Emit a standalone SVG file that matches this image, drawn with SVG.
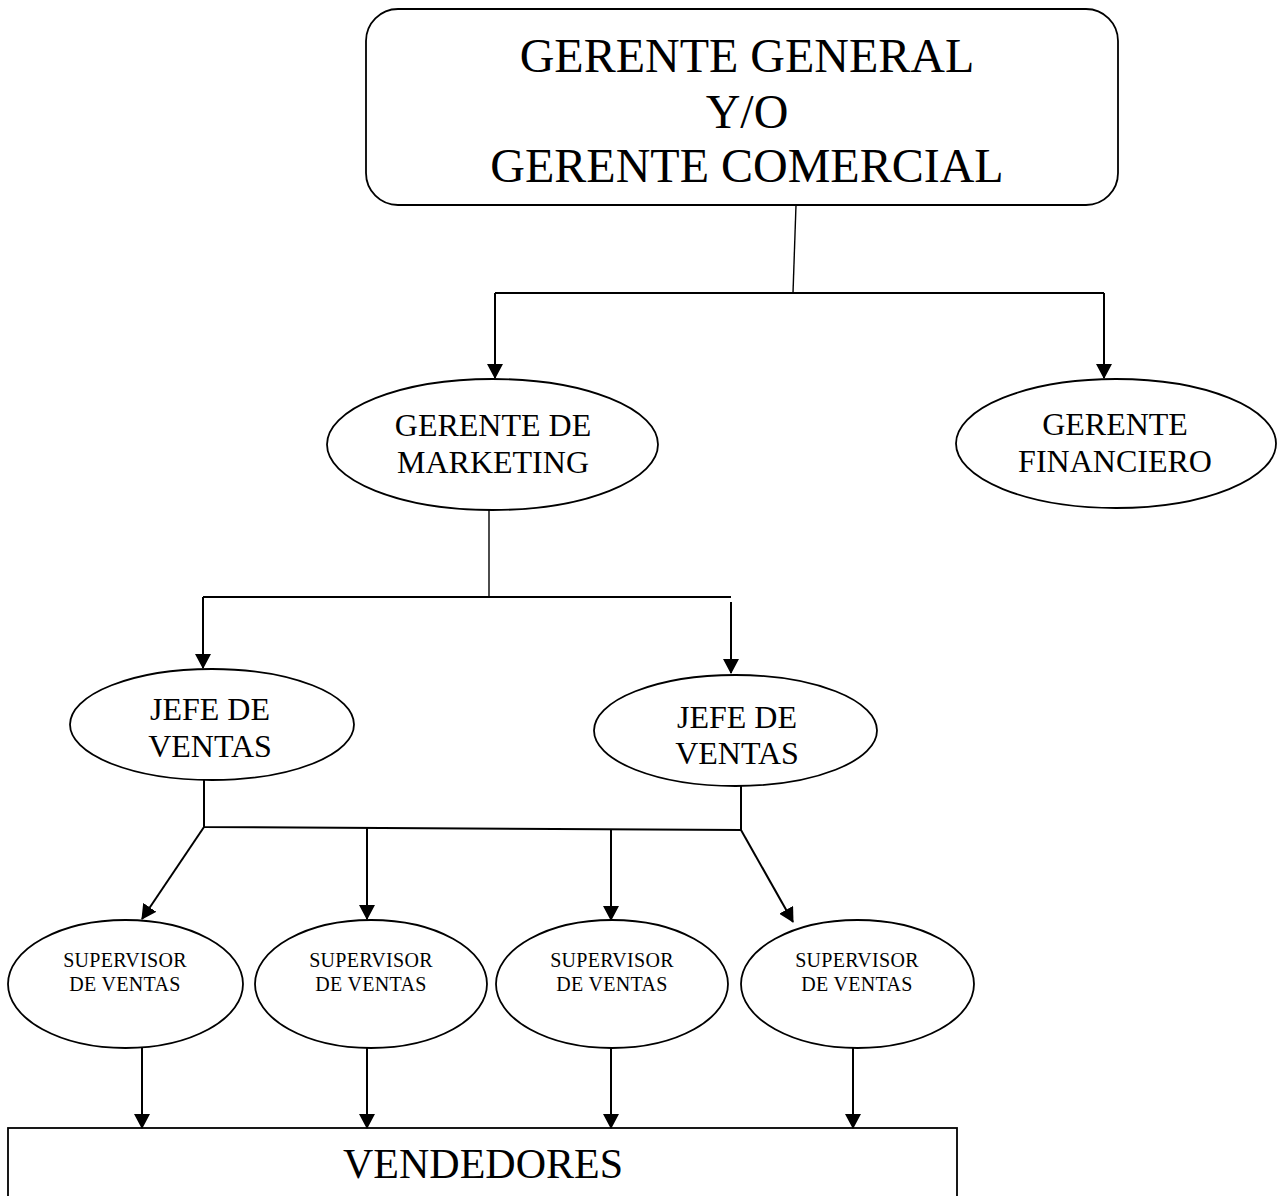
<svg xmlns="http://www.w3.org/2000/svg" width="1278" height="1196" viewBox="0 0 1278 1196">
<style>
  .shape { fill: #ffffff; stroke: #000000; stroke-width: 1.8; }
  .conn { fill: none; stroke: #000000; stroke-width: 2; }
  .thin { fill: none; stroke: #000000; stroke-width: 1.4; }
  .arrow { fill: none; stroke: #000000; stroke-width: 2; marker-end: url(#ah); }
  text { font-family: "Liberation Serif", "Times New Roman", serif; fill: #000000; text-anchor: middle; }
  .t48 { font-size: 48px; }
  .t32 { font-size: 32px; }
  .t42 { font-size: 42px; }
  .t20 { font-size: 20px; letter-spacing: 0.3px; }
</style>
<defs>
  <marker id="ah" viewBox="0 0 15 16" refX="14" refY="8" markerWidth="15" markerHeight="16" markerUnits="userSpaceOnUse" orient="auto">
    <path d="M0,0 L15,8 L0,16 Z" fill="#000000"/>
  </marker>
</defs>
<rect width="1278" height="1196" fill="#ffffff"/>

<g id="gerente-general">
  <rect class="shape" x="366" y="9" width="752" height="196" rx="32" ry="32"/>
  <text class="t48" x="747" y="72">GERENTE GENERAL</text>
  <text class="t48" x="747" y="128">Y/O</text>
  <text class="t48" x="747" y="182">GERENTE COMERCIAL</text>
</g>

<g id="gerente-marketing">
  <ellipse class="shape" cx="492.5" cy="444.5" rx="165.5" ry="65.5"/>
  <text class="t32" x="493" y="436">GERENTE DE</text>
  <text class="t32" x="493" y="473">MARKETING</text>
</g>

<g id="gerente-financiero">
  <ellipse class="shape" cx="1116" cy="443.5" rx="160" ry="64.5"/>
  <text class="t32" x="1115" y="435">GERENTE</text>
  <text class="t32" x="1115" y="472">FINANCIERO</text>
</g>

<g id="jefe-ventas-1">
  <ellipse class="shape" cx="212" cy="724.5" rx="142" ry="55.5"/>
  <text class="t32" x="210" y="720">JEFE DE</text>
  <text class="t32" x="210" y="757">VENTAS</text>
</g>

<g id="jefe-ventas-2">
  <ellipse class="shape" cx="735.5" cy="730.5" rx="141.5" ry="55.5"/>
  <text class="t32" x="737" y="728">JEFE DE</text>
  <text class="t32" x="737" y="764">VENTAS</text>
</g>

<g id="supervisor-1">
  <ellipse class="shape" cx="125.5" cy="984" rx="117.5" ry="64"/>
  <text class="t20" x="125" y="967">SUPERVISOR</text>
  <text class="t20" x="125" y="991">DE VENTAS</text>
</g>

<g id="supervisor-2">
  <ellipse class="shape" cx="371" cy="984" rx="116" ry="64"/>
  <text class="t20" x="371" y="967">SUPERVISOR</text>
  <text class="t20" x="371" y="991">DE VENTAS</text>
</g>

<g id="supervisor-3">
  <ellipse class="shape" cx="612" cy="984" rx="116" ry="64"/>
  <text class="t20" x="612" y="967">SUPERVISOR</text>
  <text class="t20" x="612" y="991">DE VENTAS</text>
</g>

<g id="supervisor-4">
  <ellipse class="shape" cx="857.5" cy="984" rx="116.5" ry="64"/>
  <text class="t20" x="857" y="967">SUPERVISOR</text>
  <text class="t20" x="857" y="991">DE VENTAS</text>
</g>

<g id="vendedores">
  <rect class="shape" x="8" y="1128" width="949" height="90"/>
  <text class="t42" x="483" y="1178">VENDEDORES</text>
</g>

<g id="connectors">
  <path class="thin" d="M796,205 L793,293"/>
  <path class="conn" d="M495,293 L1104,293"/>
  <path class="arrow" d="M495,293 L495,378"/>
  <path class="arrow" d="M1104,293 L1104,378"/>

  <path class="thin" d="M489,510 L489,597"/>
  <path class="conn" d="M203,597 L731,597"/>
  <path class="arrow" d="M203,597 L203,668"/>
  <path class="arrow" d="M731,602 L731,673"/>

  <path class="conn" d="M204,780 L204,827 L741,830 L741,786"/>
  <path class="arrow" d="M204,827 L142,919"/>
  <path class="arrow" d="M367,827 L367,919"/>
  <path class="arrow" d="M611,829 L611,920"/>
  <path class="arrow" d="M741,830 L793,922"/>

  <path class="arrow" d="M142,1048 L142,1128"/>
  <path class="arrow" d="M367,1048 L367,1128"/>
  <path class="arrow" d="M611,1048 L611,1128"/>
  <path class="arrow" d="M853,1048 L853,1128"/>
</g>
</svg>
